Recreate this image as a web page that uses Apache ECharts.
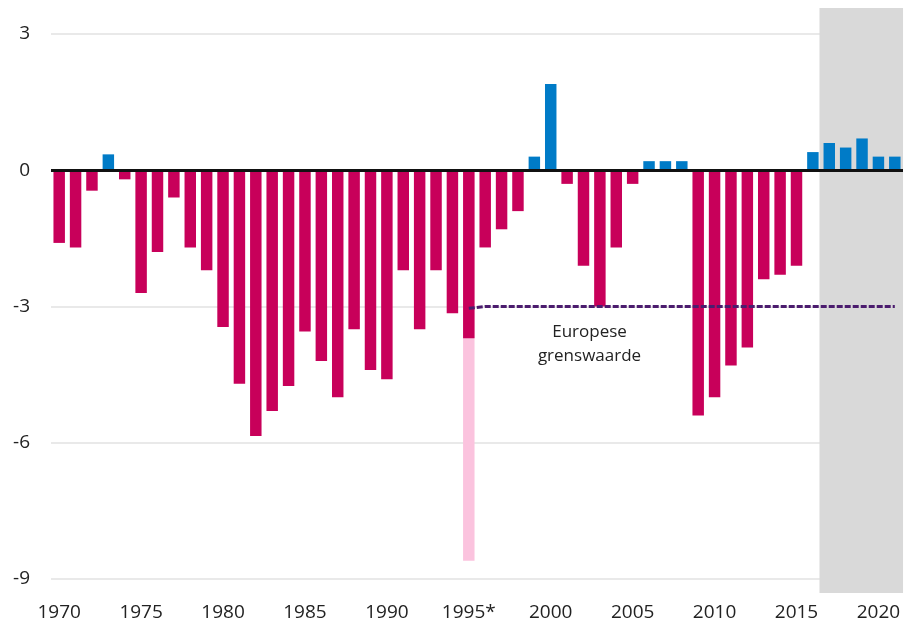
<!DOCTYPE html>
<html><head><meta charset="utf-8">
<script src="https://cdn.jsdelivr.net/npm/echarts@6/dist/echarts.min.js"></script>
<style>html,body{margin:0;padding:0;background:#fff}#c{width:906px;height:627px}</style>
</head><body><div id="c"></div>
<script>
const years = ['1970','1971','1972','1973','1974','1975','1976','1977','1978','1979',
  '1980','1981','1982','1983','1984','1985','1986','1987','1988','1989',
  '1990','1991','1992','1993','1994','1995','1996','1997','1998','1999',
  '2000','2001','2002','2003','2004','2005','2006','2007','2008','2009',
  '2010','2011','2012','2013','2014','2015','2016','2017','2018','2019',
  '2020','2021'];
const saldo = [-1.6,-1.7,-0.45,0.35,-0.2,-2.7,-1.8,-0.6,-1.7,-2.2,
  -3.45,-4.7,-5.85,-5.3,-4.75,-3.55,-4.2,-5.0,-3.5,-4.4,
  -4.6,-2.2,-3.5,-2.2,-3.15,-3.7,-1.7,-1.3,-0.9,0.3,
  1.9,-0.3,-2.1,-3.0,-1.7,-0.3,0.2,0.2,0.2,-5.4,
  -5.0,-4.3,-3.9,-2.4,-2.3,-2.1,0.4,0.6,0.5,0.7,
  0.3,0.3];
// 1995 including one-off (light bar)
const saldo1995Incl = years.map(y => y === '1995' ? -8.6 : null);
const euLimitYears = ['1995','1996','1997','1998','1999','2000','2001','2002','2003','2004','2005','2006','2007','2008','2009','2010','2011','2012','2013','2014','2015','2016','2017','2018','2019','2020','2021'];
const euLimitValues = [-3.04,-3,-3,-3,-3,-3,-3,-3,-3,-3,-3,-3,-3,-3,-3,-3,-3,-3,-3,-3,-3,-3,-3,-3,-3,-3,-3];
const euLimit = years.map(y => { const i = euLimitYears.indexOf(y); return i < 0 ? null : euLimitValues[i]; });
const xTickYears = ['1970','1975','1980','1985','1990','1995','2000','2005','2010','2015','2020'];
const xTickLabels = {'1995': '1995*'};
const yTicks = [-9, -6, -3, 0, 3];
const projection = [2016.4, 2021.5];
const euLabel = 'Europese\ngrenswaarde';

const font = '"Open Sans", "Noto Sans", sans-serif';
const chart = echarts.init(document.getElementById('c'));
chart.setOption({
  animation: false,
  grid: [
    {left: 51, right: 3, top: 34, bottom: 48},
    {left: 51, right: 1, top: 8, bottom: 34}
  ],
  xAxis: [
    {type: 'category', data: years, gridIndex: 0,
     axisLine: {show: false, onZero: false}, axisTick: {show: false}, splitLine: {show: false},
     axisLabel: {interval: (i, v) => xTickYears.includes(v), formatter: v => xTickLabels[v] || v,
       fontSize: 19, color: '#222', margin: 24, fontFamily: font}},
    {type: 'value', gridIndex: 1, min: 1969.5, max: 2021.62, show: false}
  ],
  yAxis: [
    {type: 'value', gridIndex: 0, min: yTicks[0], max: yTicks[yTicks.length - 1], interval: 3,
     axisLine: {show: false}, axisTick: {show: false},
     axisLabel: {fontSize: 19, color: '#222', margin: 21, fontFamily: font},
     splitLine: {lineStyle: {color: '#e9e9e9', width: 2}}},
    {type: 'value', gridIndex: 1, min: 0, max: 1, show: false}
  ],
  series: [
    {type: 'line', xAxisIndex: 1, yAxisIndex: 1, data: [[1969.5, 0]], showSymbol: false, z: -1, silent: true,
     lineStyle: {opacity: 0},
     markArea: {silent: true, itemStyle: {color: '#d9d9d9'},
       data: [[{xAxis: projection[0]}, {xAxis: projection[1]}]]}},
    {name: '1995 incl.', type: 'bar', data: saldo1995Incl, barWidth: '70%', barGap: '-100%',
     itemStyle: {color: '#fbc3de'}},
    {name: 'saldo', type: 'bar', data: saldo, barWidth: '70%', barGap: '-100%',
     itemStyle: {color: p => p.value >= 0 ? '#007bc7' : '#c8005a'},
     markLine: {silent: true, symbol: 'none', label: {show: false},
       lineStyle: {color: '#111', width: 3, type: 'solid'}, data: [{yAxis: 0}]}},
    {name: 'EU', type: 'line', data: euLimit, symbol: 'none', connectNulls: false,
     lineStyle: {color: '#4b1c6e', width: 3, type: [6, 2]},
     markPoint: {silent: true, data: [{coord: ['2002', -3.84], symbol: 'circle', symbolSize: 0,
       itemStyle: {color: 'rgba(0,0,0,0)'},
       label: {show: true, position: 'inside', formatter: euLabel, fontSize: 17, lineHeight: 24,
         color: '#222', fontFamily: font, align: 'center', verticalAlign: 'middle', offset: [6, 0]}}]}}
  ]
});
</script></body></html>
